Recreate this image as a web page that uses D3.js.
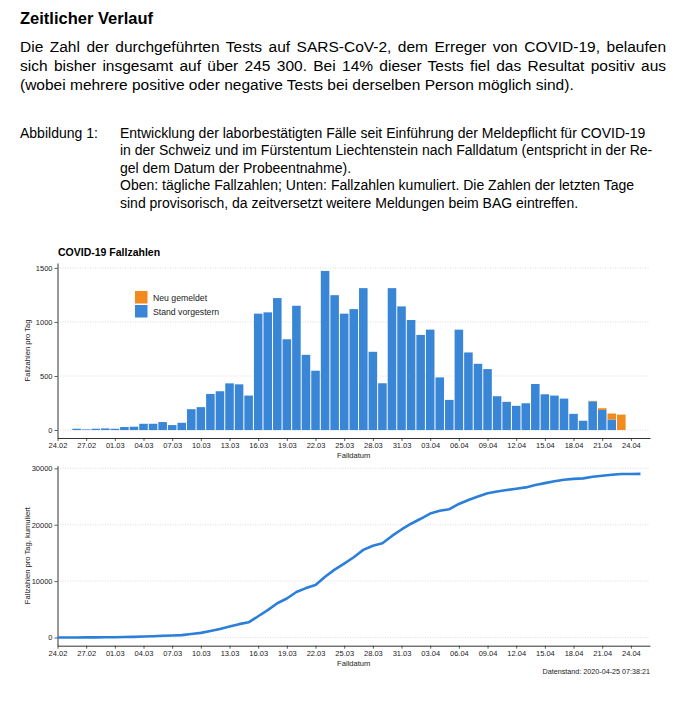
<!DOCTYPE html>
<html><head><meta charset="utf-8">
<script src="https://cdn.jsdelivr.net/npm/d3@7"></script>
<style>
body{margin:0;background:#fff;}
svg{display:block;font-family:"Liberation Sans",Arial,sans-serif;}
</style>
</head><body><svg id="c" width="686" height="702"></svg>
<script>
// ---------- data ----------
const dailyDates = ["2020-02-26","2020-02-27","2020-02-28","2020-02-29","2020-03-01","2020-03-02","2020-03-03","2020-03-04","2020-03-05","2020-03-06","2020-03-07","2020-03-08","2020-03-09","2020-03-10","2020-03-11","2020-03-12","2020-03-13","2020-03-14","2020-03-15","2020-03-16","2020-03-17","2020-03-18","2020-03-19","2020-03-20","2020-03-21","2020-03-22","2020-03-23","2020-03-24","2020-03-25","2020-03-26","2020-03-27","2020-03-28","2020-03-29","2020-03-30","2020-03-31","2020-04-01","2020-04-02","2020-04-03","2020-04-04","2020-04-05","2020-04-06","2020-04-07","2020-04-08","2020-04-09","2020-04-10","2020-04-11","2020-04-12","2020-04-13","2020-04-14","2020-04-15","2020-04-16","2020-04-17","2020-04-18","2020-04-19","2020-04-20","2020-04-21","2020-04-22","2020-04-23"];
const standVorgestern = [12,6,12,15,12,28,31,58,58,74,46,67,193,212,334,359,432,423,319,1077,1089,1221,840,1150,696,549,1472,1248,1077,1119,1313,724,433,1313,1144,1018,880,929,487,279,929,718,613,564,313,261,224,248,426,331,319,291,150,86,266,186,98,0];
const neuGemeldet    = [0,0,0,0,0,0,0,0,0,0,0,0,0,0,0,0,0,0,0,0,0,0,0,0,0,0,0,0,0,0,0,0,0,0,0,0,0,0,0,0,0,0,0,0,0,0,0,0,0,0,0,0,0,0,4,16,55,143];
const cumDates = ["2020-02-24","2020-02-25"].concat(dailyDates).concat(["2020-04-24","2020-04-25"]);
const cumCases = [0,1,13,19,31,46,58,86,117,175,233,307,353,420,613,825,1159,1518,1950,2373,2692,3769,4858,6079,6919,8069,8765,9314,10786,12034,13111,14230,15543,16267,16700,18013,19157,20175,21055,21984,22471,22750,23679,24397,25010,25574,25887,26148,26372,26620,27046,27377,27696,27987,28137,28223,28493,28695,28848,28991,29005,29010];
const xTickLabels = ["24.02","27.02","01.03","04.03","07.03","10.03","13.03","16.03","19.03","22.03","25.03","28.03","31.03","03.04","06.04","09.04","12.04","15.04","18.04","21.04","24.04"];
const yTicksDaily = [0,500,1000,1500];
const yTicksCum = [0,10000,20000,30000];
const seriesNames = ["Neu gemeldet","Stand vorgestern"];
const seriesColors = ["#F28A1E","#3A86D6"];
const lineColor = "#2C7FD9";

// ---------- helpers ----------
const svg = d3.select("#c");
const parse = d3.utcParse("%Y-%m-%d");
const parseTick = s => d3.utcParse("%d.%m.%Y")(s + ".2020");
const tickDates = xTickLabels.map(parseTick);
const fmt = d3.utcFormat("%d.%m");
const TXT = "#1a1a1a";

// ---------- header text ----------
svg.append("text").attr("x",20).attr("y",24).attr("font-weight","bold").attr("font-size",16.5).attr("fill","#000").text("Zeitlicher Verlauf");
const para = [
  ["Die Zahl der durchgeführten Tests auf SARS-CoV-2, dem Erreger von COVID-19, belaufen", true],
  ["sich bisher insgesamt auf über 245 300. Bei 14% dieser Tests fiel das Resultat positiv aus", true],
  ["(wobei mehrere positive oder negative Tests bei derselben Person möglich sind).", false]
];
para.forEach((p,i)=>{
  const t = svg.append("text").attr("x",20).attr("y",52+i*19).attr("font-size",15.5).attr("fill","#000").text(p[0]);
  if(p[1]){
    const w = t.node().getComputedTextLength();
    const n = (p[0].match(/ /g)||[]).length;
    t.style("word-spacing", ((666-20-w)/n)+"px");
  }
});
svg.append("text").attr("x",20).attr("y",138).attr("font-size",14).attr("fill","#000").text("Abbildung 1:");
const cap = [
  "Entwicklung der laborbestätigten Fälle seit Einführung der Meldepflicht für COVID-19",
  "in der Schweiz und im Fürstentum Liechtenstein nach Falldatum (entspricht in der Re-",
  "gel dem Datum der Probeentnahme).",
  "Oben: tägliche Fallzahlen; Unten: Fallzahlen kumuliert. Die Zahlen der letzten Tage",
  "sind provisorisch, da zeitversetzt weitere Meldungen beim BAG eintreffen."
];
cap.forEach((c,i)=>{
  svg.append("text").attr("x",120).attr("y",138+i*17.4).attr("font-size",14).attr("fill","#000").text(c);
});

// ---------- shared x ----------
const x = d3.scaleUtc().domain([parse("2020-02-24"), parse("2020-04-26")]).range([57.5, 650]);
const dayW = x(parse("2020-02-25")) - x(parse("2020-02-24"));

function drawAxes(g, y, yTicks, yTitle, top, bottom){
  g.append("g").selectAll("line").data(yTicks).join("line")
    .attr("x1",57.5).attr("x2",650).attr("y1",d=>y(d)).attr("y2",d=>y(d))
    .attr("stroke","#d4d4d4").attr("stroke-width",0.8).attr("stroke-dasharray","1,1.5");
  const ya = g.append("g").attr("transform","translate(57.5,0)")
    .call(d3.axisLeft(y).tickValues(yTicks).tickSize(3).tickSizeOuter(0).tickPadding(2).tickFormat(d3.format("d")));
  const xa = g.append("g").attr("transform",`translate(0,${bottom})`)
    .call(d3.axisBottom(x).tickValues(tickDates).tickSize(3).tickSizeOuter(0).tickPadding(1.8).tickFormat(fmt));
  [ya,xa].forEach(a=>{
    a.select(".domain").attr("stroke","#333").attr("stroke-width",1);
    a.selectAll(".tick line").attr("stroke","#333").attr("stroke-width",0.8);
    a.selectAll(".tick text").attr("fill",TXT).attr("font-size",7.5).attr("font-family","Liberation Sans, Arial, sans-serif");
  });
  g.append("text").attr("x",(57.5+650)/2).attr("y",bottom+20).attr("text-anchor","middle")
    .attr("font-size",7.6).attr("fill",TXT).text("Falldatum");
  g.append("text").attr("transform",`translate(30,${(top+bottom)/2}) rotate(-90)`).attr("text-anchor","middle")
    .attr("font-size",7.6).attr("fill",TXT).text(yTitle);
}

// ---------- top chart ----------
const gT = svg.append("g");
const yT = d3.scaleLinear().domain([-73.6, 1545.6]).range([438, 263]);
gT.append("text").attr("x",58).attr("y",256).attr("font-weight","bold").attr("font-size",10.5).attr("fill","#000").text("COVID-19 Fallzahlen");
drawAxes(gT, yT, yTicksDaily, "Fallzahlen pro Tag", 263, 438);

const rows = dailyDates.map((d,i)=>({date:parse(d), blue:standVorgestern[i], orange:neuGemeldet[i]}));
const bw = dayW - 1;
gT.append("g").selectAll("rect").data(rows.filter(r=>r.blue>0)).join("rect")
  .attr("x",r=>x(r.date)-bw/2).attr("width",bw)
  .attr("y",r=>yT(r.blue)).attr("height",r=>yT(0)-yT(r.blue))
  .attr("fill",seriesColors[1]);
gT.append("g").selectAll("rect").data(rows.filter(r=>r.orange>0)).join("rect")
  .attr("x",r=>x(r.date)-bw/2).attr("width",bw)
  .attr("y",r=>yT(r.blue+r.orange)).attr("height",r=>yT(r.blue)-yT(r.blue+r.orange))
  .attr("fill",seriesColors[0]);

// legend
const leg = gT.append("g").attr("transform","translate(135,291)");
seriesNames.forEach((n,i)=>{
  leg.append("rect").attr("x",0).attr("y",i*14).attr("width",12.5).attr("height",12.5).attr("fill",seriesColors[i]);
  leg.append("text").attr("x",18).attr("y",i*14+9.5).attr("font-size",8.7).attr("fill",TXT).text(n);
});

// ---------- bottom chart ----------
const gB = svg.append("g");
const yB = d3.scaleLinear().domain([-1450, 30466]).range([645.7, 465.7]);
drawAxes(gB, yB, yTicksCum, "Fallzahlen pro Tag, kumuliert", 465.7, 645.7);
const line = d3.line().x((d,i)=>x(parse(cumDates[i]))).y(d=>yB(d));
gB.append("path").datum(cumCases).attr("d",line).attr("fill","none")
  .attr("stroke",lineColor).attr("stroke-width",2.6).attr("stroke-linejoin","round");

svg.append("text").attr("x",650).attr("y",674).attr("text-anchor","end").attr("font-size",7.2).attr("fill",TXT)
  .text("Datenstand: 2020-04-25 07:38:21");
</script>
</body></html>
